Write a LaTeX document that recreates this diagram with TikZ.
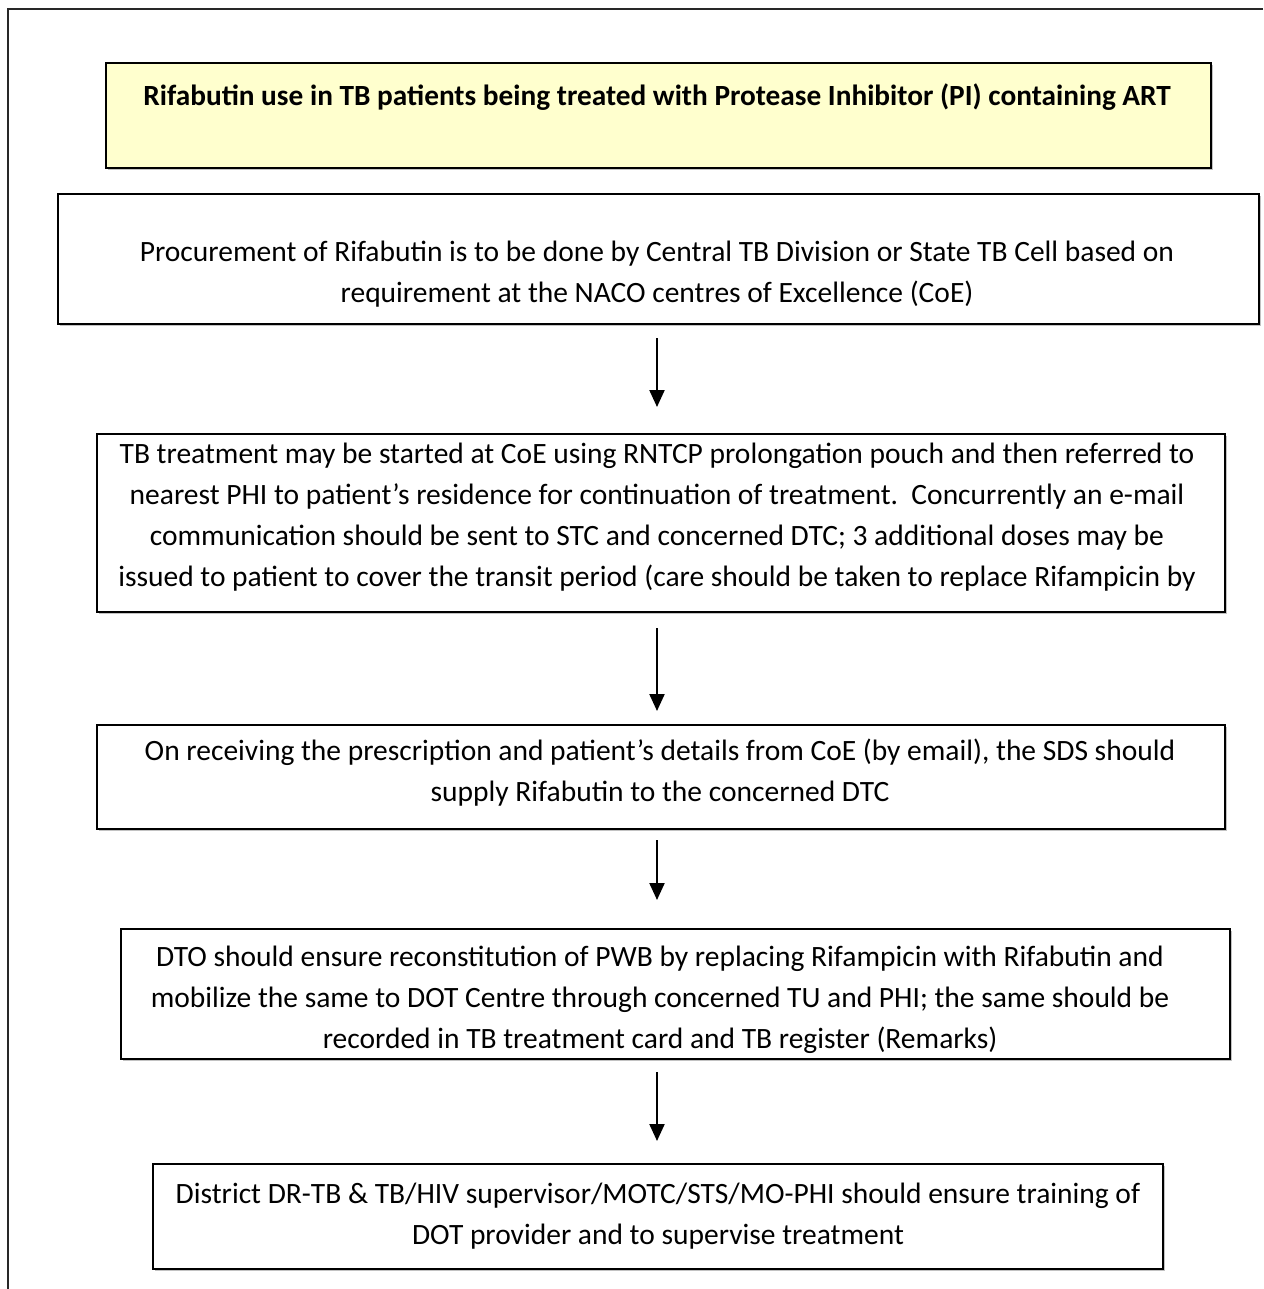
\documentclass[tikz,border=0pt]{standalone}
\usepackage{fontspec}
\setmainfont{Carlito}
\usetikzlibrary{arrows.meta,shadows}
\definecolor{titlefill}{RGB}{255,255,206}
\definecolor{framegray}{RGB}{40,40,40}
\begin{document}
\begin{tikzpicture}[x=1pt,y=-1pt,
  box/.style={draw=black,line width=2.4pt,inner sep=0pt,anchor=north west,
    drop shadow={shadow xshift=1.6pt,shadow yshift=-1.6pt,fill=black!40,opacity=0.6}},
  % multi-line texts are placed by the baseline of their last line
  txt/.style={align=center,inner sep=0pt,anchor=base,font=\fontsize{29.5}{41}\selectfont},
  ttl/.style={align=center,inner sep=0pt,anchor=base,font=\fontsize{29.3}{41}\selectfont\bfseries},
  flow/.style={-{Triangle[length=17pt,width=15pt]},line width=2.2pt}]
\useasboundingbox (0,0) rectangle (1263,1289);

% page frame (top and left edges)
\draw[framegray,line width=2.2pt] (1263,9) -- (8,9) -- (8,1289);

% boxes
\node[box,fill=titlefill,minimum width=1105pt,minimum height=105pt] (title) at (105,62) {};
\node[box,fill=white,minimum width=1201pt,minimum height=130pt] (b2) at (57,193) {};
\node[box,fill=white,minimum width=1128pt,minimum height=178pt] (b3) at (96,433) {};
\node[box,fill=white,minimum width=1128pt,minimum height=104pt] (b4) at (96,724) {};
\node[box,fill=white,minimum width=1109pt,minimum height=130pt] (b5) at (120,928) {};
\node[box,fill=white,minimum width=1010pt,minimum height=105pt] (b6) at (152,1163) {};

% texts
\node[ttl] (t1) at (657,106) {Rifabutin use in TB patients being treated with Protease Inhibitor (PI) containing ART};
\node[txt] (t2) at (657,302) {Procurement of Rifabutin is to be done by Central TB Division or State TB Cell based on\\
requirement at the NACO centres of Excellence (CoE)};
\node[txt] (t3) at (657,586) {TB treatment may be started at CoE using RNTCP prolongation pouch and then referred to\\
nearest PHI to patient’s residence for continuation of treatment.~~Concurrently an e-mail\\
communication should be sent to STC and concerned DTC; 3 additional doses may be\\
issued to patient to cover the transit period (care should be taken to replace Rifampicin by};
\node[txt] (t4) at (660,801) {On receiving the prescription and patient’s details from CoE (by email), the SDS should\\
supply Rifabutin to the concerned DTC};
\node[txt] (t5) at (660,1048) {DTO should ensure reconstitution of PWB by replacing Rifampicin with Rifabutin and\\
mobilize the same to DOT Centre through concerned TU and PHI; the same should be\\
recorded in TB treatment card and TB register (Remarks)};
\node[txt] (t6) at (658,1244) {District DR-TB \& TB/HIV supervisor/MOTC/STS/MO-PHI should ensure training of\\
DOT provider and to supervise treatment};

% arrow end points
\coordinate (a1s) at (657,338); \coordinate (a1e) at (657,407);
\coordinate (a2s) at (657,628); \coordinate (a2e) at (657,711);
\coordinate (a3s) at (657,840); \coordinate (a3e) at (657,900);
\coordinate (a4s) at (657,1072); \coordinate (a4e) at (657,1141);
\draw[flow] (a1s) -- (a1e);
\draw[flow] (a2s) -- (a2e);
\draw[flow] (a3s) -- (a3e);
\draw[flow] (a4s) -- (a4e);
\end{tikzpicture}
\end{document}
